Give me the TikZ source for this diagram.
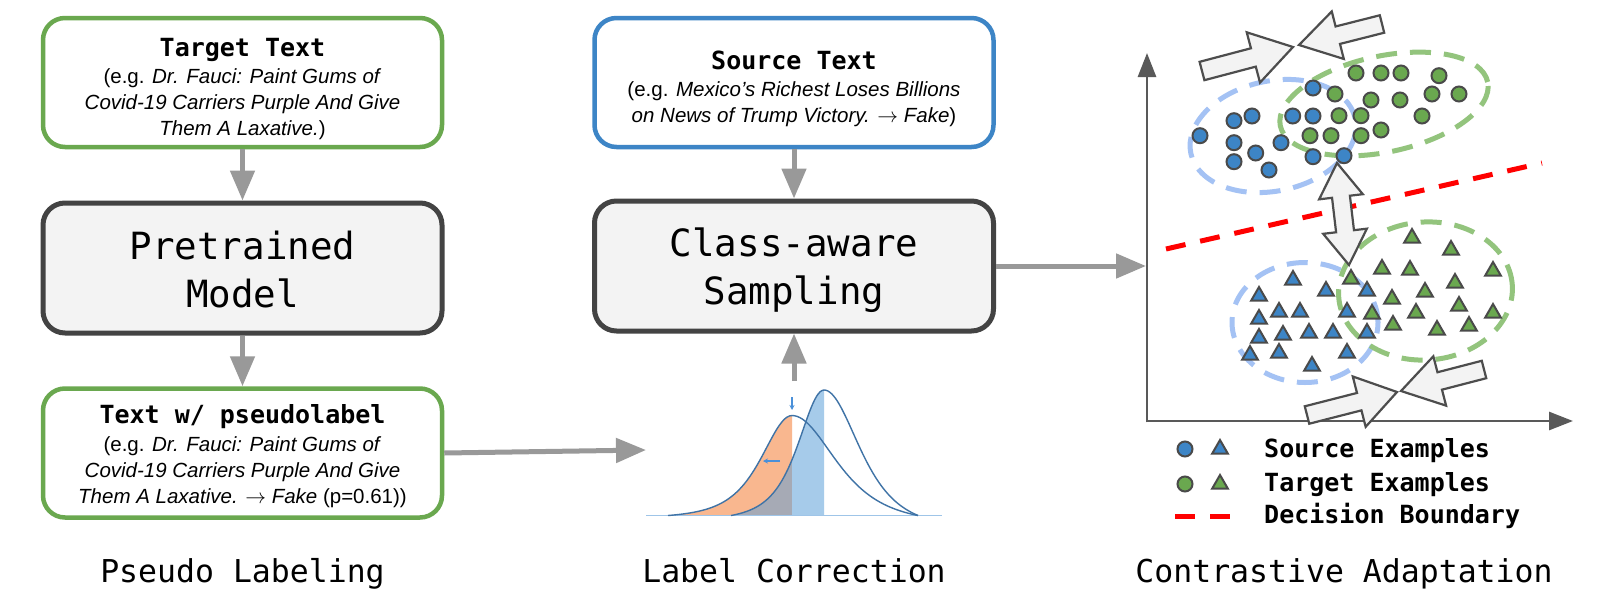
\documentclass[tikz,border=0pt]{standalone}
\usepackage{fontspec}
\setmainfont{Liberation Sans}
\newfontfamily\codefont{DejaVu Sans Mono}
\usetikzlibrary{arrows.meta,calc,shapes.geometric}

\definecolor{boxgreen}{HTML}{6AA84F}
\definecolor{boxblue}{HTML}{3D85C6}
\definecolor{boxdark}{HTML}{434343}
\definecolor{boxfill}{HTML}{F3F3F3}
\definecolor{flowgray}{HTML}{999999}
\definecolor{axisgray}{HTML}{595959}
\definecolor{markedge}{HTML}{4A4A4A}
\definecolor{srcblue}{HTML}{3D85C6}
\definecolor{tgtgreen}{HTML}{6AA84F}
\definecolor{ellblue}{HTML}{A4C2F4}
\definecolor{ellgreen}{HTML}{93C47D}
\definecolor{peach}{HTML}{F9B78F}
\definecolor{overlap}{HTML}{A6AAB5}
\definecolor{bandblue}{HTML}{A6CBEA}
\definecolor{curveblue}{HTML}{3F73A6}
\definecolor{baseblue}{HTML}{9FC5E8}
\definecolor{hintblue}{HTML}{4A90D9}
\definecolor{arrowedge}{HTML}{4D4D4D}

\newcommand{\headfont}{\codefont\bfseries\fontsize{25}{30}\selectfont}
\newcommand{\examplefont}{\fontsize{20.5}{26}\selectfont}
\newcommand{\stagefont}{\codefont\fontsize{37.5}{45}\selectfont}
\newcommand{\phasefont}{\codefont\fontsize{31.5}{38}\selectfont}
\newcommand{\labelarrow}{$\rightarrow$}

% block arrow: #1 tail, #2 tip, #3 shaft half-width, #4 head half-width, #5 head length
\newcommand{\fatarrow}[5]{%
  \coordinate (#2-base) at ($(#2)!#5!(#1)$);
  \draw[fatarrow] ($(#1)!#3!90:(#2)$) -- ($(#2-base)!#3!90:(#2)$)
    -- ($(#2-base)!#4!90:(#2)$) -- (#2) -- ($(#2-base)!#4!-90:(#2)$)
    -- ($(#2-base)!#3!-90:(#2)$) -- ($(#1)!#3!-90:(#2)$) -- cycle;}
% double-headed block arrow between tips #1 and #2
\newcommand{\fatdblarrow}[5]{%
  \coordinate (#1-base) at ($(#1)!#5!(#2)$);
  \coordinate (#2-base) at ($(#2)!#5!(#1)$);
  \draw[fatarrow] (#1) -- ($(#1-base)!#4!90:(#2)$) -- ($(#1-base)!#3!90:(#2)$)
    -- ($(#2-base)!#3!-90:(#1)$) -- ($(#2-base)!#4!-90:(#1)$) -- (#2)
    -- ($(#2-base)!#4!90:(#1)$) -- ($(#2-base)!#3!90:(#1)$)
    -- ($(#1-base)!#3!-90:(#2)$) -- ($(#1-base)!#4!-90:(#2)$) -- cycle;}

\tikzset{
  textbox/.style={draw, rounded corners=22pt, line width=4.5pt, fill=white,
    minimum width=399pt, minimum height=129pt, inner sep=0pt},
  stagebox/.style={draw=boxdark, fill=boxfill, rounded corners=22pt, line width=5pt,
    minimum width=399pt, minimum height=130pt, inner sep=0pt},
  flow/.style={draw=flowgray, line width=5pt, -{Triangle[length=30pt,width=24pt]}},
  axisline/.style={draw=axisgray, line width=2.8pt, -{Triangle[length=24pt,width=18pt]}},
  cluster/.style={line width=5pt, dash pattern=on 21pt off 13pt},
  boundary/.style={draw=red, line width=5pt, dash pattern=on 20pt off 15pt},
  sample/.style={draw=markedge, line width=2pt, inner sep=0pt},
  srcdot/.style={sample, circle, minimum size=15pt, fill=srcblue},
  tgtdot/.style={sample, circle, minimum size=15pt, fill=tgtgreen},
  srctri/.style={sample, regular polygon, regular polygon sides=3, minimum size=18pt, fill=srcblue},
  tgttri/.style={sample, regular polygon, regular polygon sides=3, minimum size=18pt, fill=tgtgreen},
  fatarrow/.style={draw=arrowedge, fill=boxfill, line width=2.2pt, line join=miter},
  hint/.style={draw=hintblue, line width=1.1pt, -{Stealth[length=5pt,width=5pt]}},
  line/.style={anchor=base, font=\examplefont},
  head/.style={anchor=base, font=\headfont},
  stage/.style={anchor=base, font=\stagefont},
  phase/.style={anchor=base, font=\phasefont},
}

\begin{document}
\begin{tikzpicture}[x=1pt, y=-1pt,
  declare function={
    bump(\d,\a)=1/(1+(\d/\a)*(\d/\a))^2;
    lcl(\u)=515.5-100*(bump(\u-792,56)-0.0287)/0.9713;
    lcr(\u)=515.5-100*(bump(\u-792,80)-0.0826)/0.9174;
    rcl(\u)=515.5-125.5*(bump(\u-824,47)-0.0414)/0.9586;
    rcr(\u)=515.5-125.5*(bump(\u-824,65)-0.1046)/0.8954;
  }]
\fill[white] (0,0) rectangle (1620,600);
\useasboundingbox (0,0) rectangle (1620,600);

% ---------- Pseudo labeling ----------
\node[textbox, draw=boxgreen] (tgt) at (242.5,82.5) {};
\node[head] (tgt-head) at (242.5,56) {Target Text};
\node[line] (tgt-l1) at (242.5,83) {(e.g. \textit{Dr. Fauci: Paint Gums of}};
\node[line] (tgt-l2) at (242.5,109) {\textit{Covid-19 Carriers Purple And Give}};
\node[line] (tgt-l3) at (242.5,135) {\textit{Them A Laxative.})};

\node[stagebox] (pm) at (242.5,268) {};
\node[stage] (pm-l1) at (242.5,259) {Pretrained};
\node[stage] (pm-l2) at (242.5,307) {Model};

\node[textbox, draw=boxgreen] (pl) at (242.5,453) {};
\node[head] (pl-head) at (242.5,423.5) {Text w/ pseudolabel};
\node[line] (pl-l1) at (242.5,451) {(e.g. \textit{Dr. Fauci: Paint Gums of}};
\node[line] (pl-l2) at (242.5,477) {\textit{Covid-19 Carriers Purple And Give}};
\node[line] (pl-l3) at (242.5,503) {\textit{Them A Laxative. \labelarrow{} Fake} (p=0.61))};

\draw[flow] (tgt.south) -- (pm.north);
\draw[flow] (pm.south) -- (pl.north);

\node[phase] (ph1) at (242.5,582) {Pseudo Labeling};

% ---------- Label correction ----------
\node[textbox, draw=boxblue] (src) at (794,82.5) {};
\node[head] (src-head) at (794,69) {Source Text};
\node[line] (src-l1) at (794,96) {(e.g. \textit{Mexico’s Richest Loses Billions}};
\node[line] (src-l2) at (794,122) {\textit{on News of Trump Victory. \labelarrow{} Fake})};

\node[stagebox] (ca) at (794,266) {};
\node[stage] (ca-l1) at (794,256) {Class-aware};
\node[stage] (ca-l2) at (794,304) {Sampling};

\draw[flow] (src.south) -- (ca.north);

% confidence distributions
\fill[peach] (668,515.5) -- plot[domain=668:792, samples=50, variable=\t] (\t,{lcl(\t)}) -- (792,515.5) -- cycle;
\fill[overlap] (731,515.5) -- plot[domain=731:792, samples=40, variable=\t] (\t,{rcl(\t)}) -- (792,515.5) -- cycle;
\fill[bandblue] (792,515.5) -- plot[domain=792:824, samples=30, variable=\t] (\t,{rcl(\t)}) -- (824,515.5) -- cycle;
\draw[baseblue, line width=1.3pt] (646,515.5) -- (942,515.5);
\draw[curveblue, line width=1.4pt, line join=round]
  plot[domain=668:792, samples=50, variable=\t] (\t,{lcl(\t)})
  -- plot[domain=792:918, samples=50, variable=\t] (\t,{lcr(\t)});
\draw[curveblue, line width=1.4pt, line join=round]
  plot[domain=731:824, samples=50, variable=\t] (\t,{rcl(\t)})
  -- plot[domain=824:918, samples=50, variable=\t] (\t,{rcr(\t)});
\coordinate (shift-a) at (792,397);
\coordinate (shift-b) at (792,410);
\coordinate (shift-c) at (780,461);
\coordinate (shift-d) at (763,461);
\draw[hint] (shift-a) -- (shift-b);
\draw[hint] (shift-c) -- (shift-d);

\coordinate (lc-in) at (646,450);
\coordinate (lc-out) at (794,381);
\draw[flow] (pl.east) -- (lc-in);
\draw[flow] (lc-out) -- (ca.south);

\node[phase] (ph2) at (794,582) {Label Correction};

% ---------- Contrastive adaptation ----------
\draw[cluster, ellblue, rotate around={12:(1273,136)}] (1273,136) ellipse [x radius=84pt, y radius=55pt];
\draw[cluster, ellgreen, rotate around={12:(1384,104)}] (1384,104) ellipse [x radius=106pt, y radius=48pt];
\draw[cluster, ellblue] (1305,322.5) ellipse [x radius=73pt, y radius=60pt];
\draw[cluster, ellgreen, rotate around={4:(1425.5,291)}] (1425.5,291) ellipse [x radius=87pt, y radius=69pt];

\coordinate (db-a) at (1166,249);
\coordinate (db-b) at (1542,163);
\draw[boundary] (db-a) -- (db-b);

\coordinate (org) at (1147,421);
\coordinate (ytop) at (1147,53);
\coordinate (xend) at (1573,421);
\draw[axisline] ($(org)+(0,1.4)$) -- (ytop);
\draw[axisline] (org) -- (xend);

\coordinate (ax-in) at (1146,266);
\draw[flow] (ca.east) -- (ax-in);

\foreach \px/\py [count=\k] in {1200/135.7, 1234/120.7, 1252/116, 1234/142.7, 1255.7/153,
    1234/161.7, 1269/170, 1281/142.7, 1292.7/116, 1313/116, 1313/88, 1313/156.7, 1344/155.7}
  \node[srcdot] (sc\k) at (\px,\py) {};
\foreach \px/\py [count=\k] in {1356/73, 1381/73, 1401/73, 1439/75.7, 1335/94, 1371/100,
    1400/100, 1432/94, 1459/94, 1339/115.7, 1361/115.7, 1422/116, 1310/135.7, 1331/135.7,
    1361/135.7, 1381/130}
  \node[tgtdot] (tc\k) at (\px,\py) {};
\foreach \px/\py [count=\k] in {1293/280, 1326/291, 1367/291, 1259/296, 1279/312, 1300/312,
    1347/312, 1259/319, 1283/335, 1309/333, 1333/333, 1367/333, 1259/338, 1250/355,
    1279/353, 1347/353, 1312/366}
  \node[srctri] (st\k) at (\px,\py) {};
\foreach \px/\py [count=\k] in {1412/238, 1451/250, 1382/269, 1410/270, 1493/271, 1351/279,
    1455/283, 1425/292, 1392/299, 1459/306, 1416/313, 1372/314, 1493/313, 1393/325,
    1469/326, 1437/330}
  \node[tgttri] (tt\k) at (\px,\py) {};

% attraction and separation arrows
\coordinate (pa-t) at (1202,71);   \coordinate (pa-h) at (1293,47);
\coordinate (pb-t) at (1382,24);   \coordinate (pb-h) at (1299,45);
\coordinate (pc-t) at (1307,415);  \coordinate (pc-h) at (1397,392);
\coordinate (pd-t) at (1484,369.5);\coordinate (pd-h) at (1401,391);
\coordinate (sep-a) at (1337,163); \coordinate (sep-b) at (1349,265);
\fatarrow{pa-t}{pa-h}{9.5pt}{26pt}{41pt}
\fatarrow{pb-t}{pb-h}{9pt}{24.5pt}{40pt}
\fatarrow{pc-t}{pc-h}{9pt}{26pt}{39pt}
\fatarrow{pd-t}{pd-h}{9pt}{25.5pt}{40pt}
\fatdblarrow{sep-a}{sep-b}{9pt}{22pt}{34pt}

% legend
\node[srcdot] (leg-sd) at (1185,449) {};
\node[srctri] (leg-st) at (1220,449) {};
\node[tgtdot] (leg-td) at (1185,484) {};
\node[tgttri] (leg-tt) at (1220,484) {};
\coordinate (leg-ba) at (1175,516);
\coordinate (leg-bb) at (1231,516);
\draw[boundary] (leg-ba) -- (leg-bb);
\node[head, anchor=base west, inner sep=0pt] (leg-s) at (1264,457) {Source Examples};
\node[head, anchor=base west, inner sep=0pt] (leg-t) at (1264,491) {Target Examples};
\node[head, anchor=base west, inner sep=0pt] (leg-d) at (1264,523) {Decision Boundary};

\node[phase] (ph3) at (1344,582) {Contrastive Adaptation};
\end{tikzpicture}
\end{document}
